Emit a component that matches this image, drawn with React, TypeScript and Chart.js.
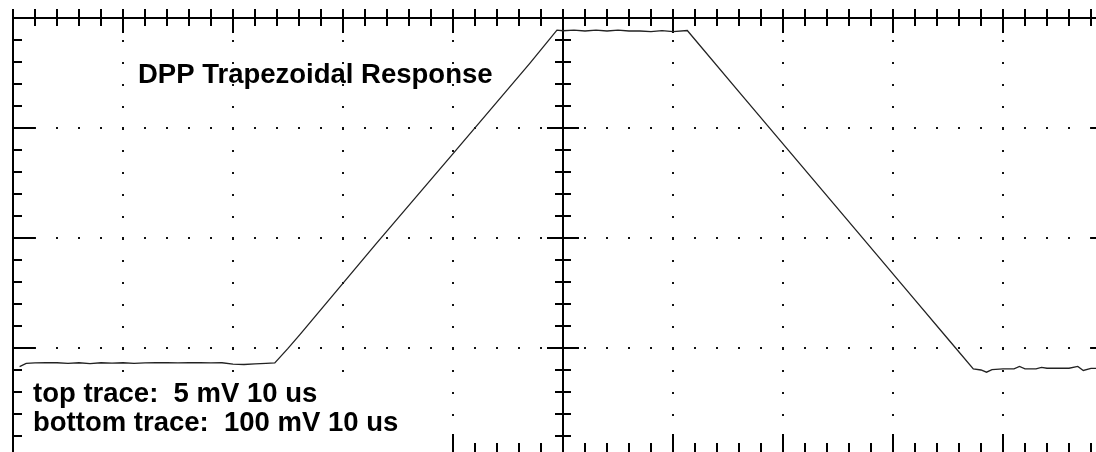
import React, { useEffect, useRef } from "react";
import { Chart, registerables } from "chart.js";

Chart.register(...registerables);

// Top trace samples: time in microseconds (10 us / division), amplitude in mV (5 mV / division)
const timeUs = [
  0.6, 1.2, 2, 3, 4, 5, 6, 7, 8, 9, 10, 11, 12, 13, 14, 15, 16, 17, 18, 19, 20, 21, 22, 23, 23.8,
  25, 26.1, 33, 40.2, 47, 49.45,
  50, 51, 52, 53, 54, 55, 56, 57, 58, 59, 60, 61.3,
  66, 71.5, 77, 81.8, 85, 87.3,
  88, 88.5, 89, 90, 91, 91.5, 92, 93, 93.5, 94, 95, 96, 96.8, 97.3, 98, 98.5,
];
const topTraceMv = [
  4.15, 4.3, 4.32, 4.33, 4.33, 4.3, 4.33, 4.29, 4.33, 4.31, 4.33, 4.3, 4.32, 4.33, 4.33, 4.32, 4.33, 4.33, 4.32, 4.33, 4.27, 4.25, 4.28, 4.3, 4.32,
  4.98, 5.62, 9.73, 13.95, 17.95, 19.45,
  19.42, 19.45, 19.41, 19.45, 19.41, 19.45, 19.41, 19.41, 19.38, 19.43, 19.38, 19.43,
  16.64, 13.39, 10.14, 7.3, 5.41, 4.05,
  4.0, 3.9, 4.02, 4.05, 4.05, 4.16, 4.05, 4.05, 4.12, 4.08, 4.08, 4.08, 4.16, 3.98, 4.07, 4.07,
];

const titleText = "DPP Trapezoidal Response";
const noteLines = ["top trace:  5 mV 10 us", "bottom trace:  100 mV 10 us"];

const xMajorUs = 10;
const xMinorUs = 2;
const xFullUs = 100;
const xVisibleMaxUs = 98.4545;
const yMajorMv = 5;
const yMinorMv = 1;
const yTopMv = 20;
const yVisibleMinMv = 0.2727;
const centerUs = 50;

const FONT = 'bold 27.5px "Liberation Sans", Arial, sans-serif';

const graticulePlugin = {
  id: "graticule",
  beforeDatasetsDraw(chart: any) {
    const { ctx, chartArea } = chart;
    const xs = chart.scales.x;
    const ys = chart.scales.y;
    const r = (v: number) => Math.round(v);
    const left = r(xs.getPixelForValue(0));
    const right = r(xs.getPixelForValue(xFullUs));
    const cx = r(xs.getPixelForValue(centerUs));
    const top = r(ys.getPixelForValue(yTopMv));
    const base = r(ys.getPixelForValue(0));
    const bottom = chartArea.bottom + 10;
    ctx.save();
    ctx.strokeStyle = "#000";
    ctx.lineWidth = 2;
    ctx.lineCap = "butt";
    const line = (x1: number, y1: number, x2: number, y2: number) => {
      ctx.beginPath();
      ctx.moveTo(x1, y1);
      ctx.lineTo(x2, y2);
      ctx.stroke();
    };
    line(left, top, right, top);
    line(left, top - 9, left, bottom);
    line(right, top, right, bottom);
    line(cx, top - 9, cx, bottom);
    for (let v = 0; v <= xFullUs + 1e-6; v += xMinorUs) {
      const px = r(xs.getPixelForValue(v));
      const major = Math.abs(v % xMajorUs) < 1e-6;
      line(px, top - 9, px, top + (major ? 15 : 8));
      line(px, base - (major ? 24 : 15), px, base);
    }
    for (let m = 0; m <= yTopMv + 1e-6; m += yMinorMv) {
      const py = r(ys.getPixelForValue(m));
      const major = Math.abs(m % yMajorMv) < 1e-6;
      line(left, py, left + (major ? 22 : 9), py);
      line(right - (major ? 22 : 9), py, right, py);
      const h = major ? 16 : 8;
      line(cx - h, py, cx + h, py);
    }
    ctx.restore();
  },
  afterDatasetsDraw(chart: any) {
    const { ctx, chartArea } = chart;
    const { left, top, bottom } = chartArea;
    ctx.save();
    // white panel behind the note text
    ctx.fillStyle = "#fff";
    ctx.fillRect(left + 11, bottom - 74, 422, 80);
    ctx.fillStyle = "#000";
    ctx.font = FONT;
    ctx.textBaseline = "alphabetic";
    ctx.textAlign = "left";
    ctx.fillText(titleText, left + 125, top + 65);
    ctx.fillText(noteLines[0], left + 20, bottom - 50);
    ctx.fillText(noteLines[1], left + 20, bottom - 21);
    ctx.restore();
  },
};

export default function App() {
  const ref = useRef<HTMLCanvasElement | null>(null);
  useEffect(() => {
    if (!ref.current) return;
    const chart = new Chart(ref.current, {
      type: "line",
      data: {
        datasets: [
          {
            label: "top trace",
            data: timeUs.map((t, i) => ({ x: t, y: topTraceMv[i] })),
            borderColor: "#222",
            borderWidth: 1.3,
            pointRadius: 0,
            tension: 0,
            fill: false,
          },
        ],
      },
      options: {
        animation: false,
        responsive: false,
        devicePixelRatio: 1,
        layout: { padding: { left: 13, top: 18, right: 0, bottom: 0 } },
        plugins: { legend: { display: false }, tooltip: { enabled: false }, title: { display: false } },
        scales: {
          x: {
            type: "linear",
            min: 0,
            max: xVisibleMaxUs,
            ticks: { display: false, stepSize: xMajorUs, includeBounds: false },
            grid: { color: "#111", lineWidth: 2, drawTicks: false },
            border: { display: false, dash: [2, 20], dashOffset: 0 },
          },
          y: {
            type: "linear",
            min: yVisibleMinMv,
            max: yTopMv,
            ticks: { display: false, stepSize: yMajorMv, includeBounds: false },
            grid: { color: "#111", lineWidth: 2, drawTicks: false },
            border: { display: false, dash: [2, 20], dashOffset: 1 },
          },
        },
      },
      plugins: [graticulePlugin],
    });
    return () => chart.destroy();
  }, []);
  return (
    <div style={{ position: "absolute", left: 0, top: 0, width: 1096, height: 452, background: "#fff" }}>
      <canvas ref={ref} width={1096} height={452} style={{ display: "block", width: 1096, height: 452 }} />
    </div>
  );
}
